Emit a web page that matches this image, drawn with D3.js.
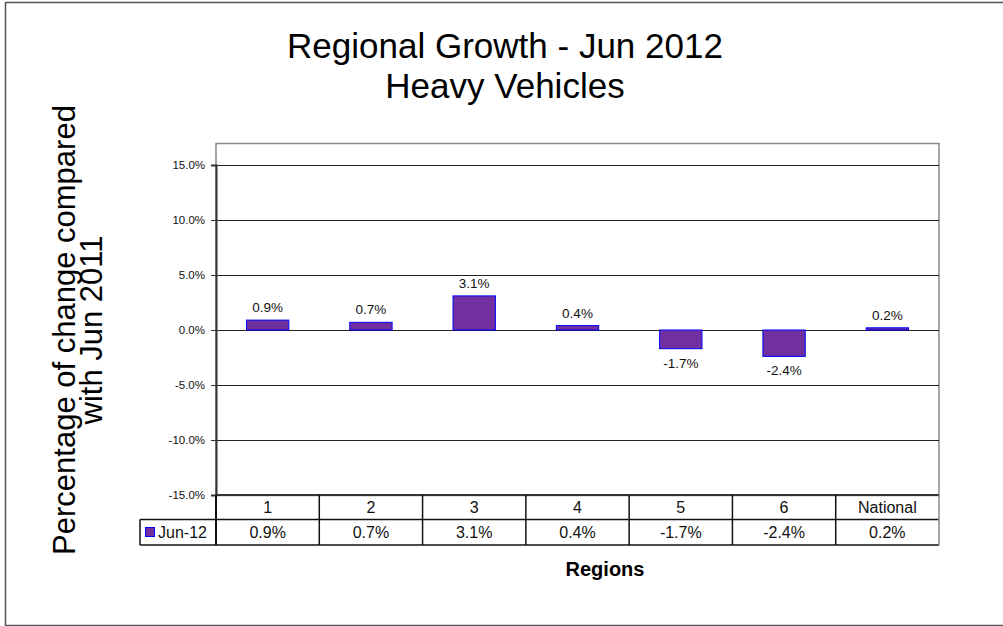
<!DOCTYPE html>
<html>
<head>
<meta charset="utf-8">
<script src="https://cdn.jsdelivr.net/npm/d3@7"></script>
<style>
  body { margin: 0; background: #fff; }
  svg { display: block; font-family: Arial, "Liberation Sans", sans-serif; }
</style>
</head>
<body>
<div id="chart"></div>
<script>
// data
const regions = ["1", "2", "3", "4", "5", "6", "National"];
const growth = [0.9, 0.7, 3.1, 0.4, -1.7, -2.4, 0.2]; // % change vs Jun 2011
const seriesName = "Jun-12";
const yTicks = [-15, -10, -5, 0, 5, 10, 15];
const titleLines = ["Regional Growth - Jun 2012", "Heavy Vehicles"];
const yTitleLines = ["Percentage of change compared", "with Jun 2011"];

const W = 1003, H = 626;
const plot = { left: 216, right: 939, top: 143, bottom: 495 };
const rowH = 25; // table row height
const barFill = "#7030a0", barStroke = "#0000ff";
const pct = d => d.toFixed(1) + "%"; // plain hyphen like the original

const svg = d3.select("#chart").append("svg")
  .attr("width", W).attr("height", H);

// outer frame
svg.append("rect")
  .attr("x", 5.5).attr("y", 2.5).attr("width", W).attr("height", H - 3)
  .attr("fill", "#fff").attr("stroke", "#555").attr("stroke-width", 1.5);

const x = d3.scaleBand().domain(regions)
  .range([plot.left, plot.right])
  .paddingInner(0.59).paddingOuter(0.295);
const y = d3.scaleLinear().domain([-15, 15]).range([plot.bottom, 165]);

// plot area box (top/right are grey)
svg.append("rect")
  .attr("x", plot.left).attr("y", plot.top + 0.5)
  .attr("width", plot.right - plot.left).attr("height", plot.bottom - plot.top)
  .attr("fill", "none").attr("stroke", "#888").attr("stroke-width", 1.5);

// gridlines
svg.append("g").selectAll("line")
  .data(yTicks.filter(t => t !== -15))
  .join("line")
  .attr("x1", plot.left).attr("x2", plot.right)
  .attr("y1", d => Math.round(y(d)) + 0.5).attr("y2", d => Math.round(y(d)) + 0.5)
  .attr("stroke", "#222").attr("stroke-width", 1.2);

// y axis
const yAxis = d3.axisLeft(y).tickValues(yTicks).tickSize(5).tickPadding(6)
  .tickFormat(pct);
const ga = svg.append("g").attr("transform", `translate(${plot.left},0)`).call(yAxis);
ga.select(".domain").attr("stroke", "#333").attr("stroke-width", 2);
ga.selectAll(".tick line").attr("stroke", "#333");
ga.selectAll(".tick text")
  .attr("font-size", 11.5).attr("fill", "#111")
  .attr("font-family", "Arial, 'Liberation Sans', sans-serif");

// bars
svg.append("g").selectAll("rect")
  .data(growth)
  .join("rect")
  .attr("x", (d, i) => x(regions[i]))
  .attr("y", d => y(Math.max(0, d)))
  .attr("width", x.bandwidth())
  .attr("height", d => Math.abs(y(d) - y(0)))
  .attr("fill", barFill).attr("stroke", barStroke).attr("stroke-width", 1);

// data labels
svg.append("g").selectAll("text")
  .data(growth)
  .join("text")
  .attr("x", (d, i) => x(regions[i]) + x.bandwidth() / 2)
  .attr("y", d => d >= 0 ? y(d) - 8 : y(d) + 19)
  .attr("text-anchor", "middle")
  .attr("font-size", 13.5).attr("fill", "#111")
  .text(pct);

// data table
const table = svg.append("g").attr("stroke", "#111").attr("stroke-width", 1.5);
const rowTop = plot.bottom, rowMid = plot.bottom + rowH - 0.5, rowBot = plot.bottom + 2 * rowH;
const colEdges = regions.map(r => x(r) - x.step() * x.paddingInner() / 2)
  .concat([plot.right]);

table.append("line").attr("x1", plot.left).attr("x2", plot.right)
  .attr("y1", rowTop).attr("y2", rowTop).attr("stroke-width", 2).attr("stroke", "#333");
table.append("line").attr("x1", 140).attr("x2", plot.right)
  .attr("y1", rowMid).attr("y2", rowMid);
table.append("line").attr("x1", 140).attr("x2", plot.right)
  .attr("y1", rowBot).attr("y2", rowBot);
table.append("line").attr("x1", 140).attr("x2", 140)
  .attr("y1", rowMid).attr("y2", rowBot);
table.selectAll(".col")
  .data(colEdges)
  .join("line")
  .attr("class", "col")
  .attr("x1", d => d).attr("x2", d => d)
  .attr("y1", rowTop).attr("y2", rowBot)
  .attr("stroke", (d, i) => i === colEdges.length - 1 ? "#888" : "#111")
  .attr("stroke-width", (d, i) => i === 0 ? 2 : 1.5);

svg.append("g").selectAll("text")
  .data(regions)
  .join("text")
  .attr("x", d => x(d) + x.bandwidth() / 2)
  .attr("y", rowTop + 18)
  .attr("text-anchor", "middle")
  .attr("font-size", 16).attr("fill", "#111")
  .text(d => d);

svg.append("g").selectAll("text")
  .data(growth)
  .join("text")
  .attr("x", (d, i) => x(regions[i]) + x.bandwidth() / 2)
  .attr("y", rowMid + 18.5)
  .attr("text-anchor", "middle")
  .attr("font-size", 16).attr("fill", "#111")
  .text(pct);

// legend key in table
svg.append("rect")
  .attr("x", 145.5).attr("y", 527.5).attr("width", 9).attr("height", 9)
  .attr("fill", barFill).attr("stroke", barStroke);
svg.append("text")
  .attr("x", 158).attr("y", rowMid + 18.5)
  .attr("font-size", 16).attr("fill", "#111")
  .text(seriesName);

// titles
svg.append("g").selectAll("text")
  .data(titleLines)
  .join("text")
  .attr("x", 505).attr("y", (d, i) => 58 + i * 40)
  .attr("text-anchor", "middle")
  .attr("font-size", 35).attr("fill", "#000")
  .text(d => d);

svg.append("g").selectAll("text")
  .data(yTitleLines)
  .join("text")
  .attr("transform", (d, i) => `translate(${75 + i * 27},330) rotate(-90)`)
  .attr("text-anchor", "middle")
  .attr("font-size", 31).attr("fill", "#000")
  .text(d => d);

svg.append("text")
  .attr("x", 605).attr("y", 576)
  .attr("text-anchor", "middle")
  .attr("font-size", 20).attr("font-weight", "bold").attr("fill", "#000")
  .text("Regions");
</script>
</body>
</html>
